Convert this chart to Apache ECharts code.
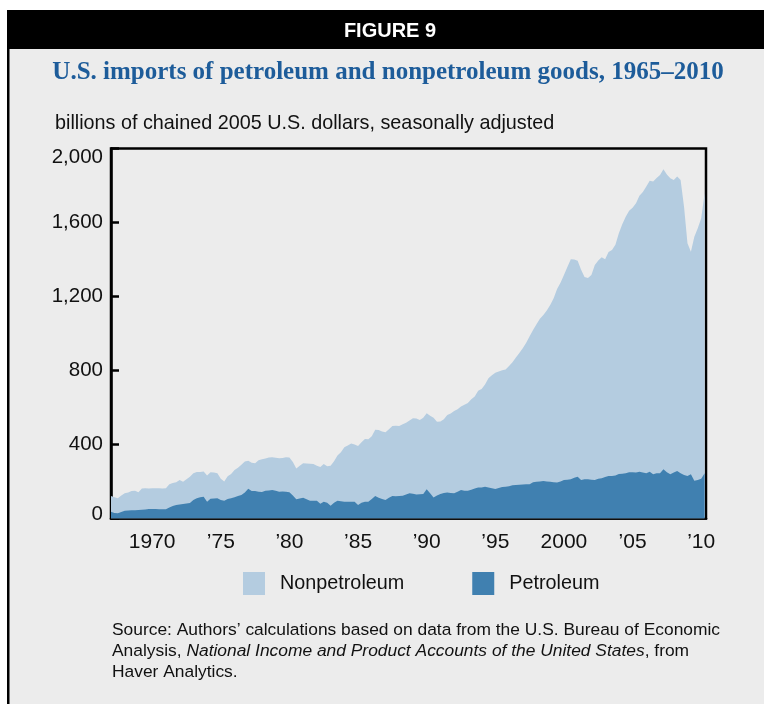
<!DOCTYPE html>
<html>
<head>
<meta charset="utf-8">
<script src="https://cdn.jsdelivr.net/npm/echarts@6/dist/echarts.min.js"></script>
<style>
  html, body { margin: 0; padding: 0; background: #ffffff; }
  #chart { width: 764px; height: 704px; }
</style>
</head>
<body>
<div id="chart"></div>
<script>
// Quarterly data, first point = 1967 Q1
const firstYear = 1967;
const nonpetroleum = [
  122, 115, 110, 125,
  136, 140, 148, 150,
  142, 162, 163, 162,
  163, 164, 163, 162,
  163, 185, 192, 196,
  208, 198, 212, 226,
  245, 252, 252, 254,
  232, 250, 248, 245,
  215, 200, 228, 240,
  262, 275, 290, 308,
  312, 302, 298, 315,
  320, 325, 330, 331,
  328, 326, 327, 331,
  330, 305, 270, 285,
  298, 297, 296, 295,
  285, 278, 295, 282,
  285, 310, 340, 358,
  385, 395, 405, 400,
  392, 412, 430, 428,
  445, 480, 478, 470,
  466, 482, 500, 502,
  500, 510, 518, 530,
  542, 540, 532, 545,
  569, 556, 545, 523,
  525, 536, 560, 568,
  581, 590, 605, 615,
  625, 645, 660, 690,
  700, 725, 758, 775,
  788, 795, 802, 806,
  825, 845, 870, 895,
  920, 950, 985, 1019,
  1050, 1080, 1100, 1125,
  1154, 1190, 1240, 1275,
  1316, 1360, 1401, 1400,
  1393, 1345, 1305, 1300,
  1316, 1370, 1395, 1412,
  1401, 1440, 1451, 1480,
  1542, 1590, 1631, 1664,
  1680, 1704, 1745, 1765,
  1794, 1826, 1821, 1840,
  1857, 1888, 1860, 1839,
  1830, 1848, 1830, 1685,
  1488, 1442, 1523, 1569,
  1623, 1758
];
const petroleum = [
  37, 30, 28, 35,
  42, 43, 44, 45,
  46, 47, 49, 51,
  52, 51, 50, 50,
  50, 60, 68, 73,
  76, 79, 81, 84,
  100, 109, 115, 118,
  91, 107, 108, 109,
  100, 96, 105, 110,
  115, 121, 127, 140,
  161, 149, 148, 145,
  143, 150, 152, 154,
  150, 145, 146, 144,
  142, 125, 104, 108,
  112, 104, 96, 96,
  96, 80, 90, 85,
  69, 85, 96, 93,
  91, 91, 90, 91,
  73, 85, 90, 91,
  105, 122, 112, 105,
  100, 112, 122, 120,
  122, 123, 130, 136,
  134, 130, 131, 132,
  158, 136, 113, 125,
  132, 138, 140, 138,
  136, 145, 154, 150,
  150, 156, 162, 167,
  167, 172, 168, 163,
  159, 165, 170, 172,
  175, 180, 181, 183,
  184, 185, 185, 196,
  198, 200, 203, 200,
  198, 196, 194, 200,
  208, 210, 212, 220,
  226, 208, 212, 212,
  210, 208, 215, 217,
  225, 230, 230, 232,
  240, 242, 245, 250,
  250, 248, 253, 248,
  244, 253, 239, 244,
  244, 266, 250, 239,
  248, 257, 245, 235,
  230, 239, 204, 208,
  215, 244
];
const xTickYears = [1970, 1975, 1980, 1985, 1990, 1995, 2000, 2005, 2010];
const xTickLabels = ['1970', '\u201975', '\u201980', '\u201985', '\u201990', '\u201995', '2000', '\u201905', '\u201910'];
const yTicks = [0, 400, 800, 1200, 1600, 2000];

const seriesNames = ['Nonpetroleum', 'Petroleum'];

function toPairs(arr) {
  return arr.map((v, i) => [firstYear + i * 0.25, v]);
}

const chart = echarts.init(document.getElementById('chart'), null, { renderer: 'canvas' });
const font = 'Liberation Sans, Arial, Helvetica, sans-serif';

chart.setOption({
  backgroundColor: '#ffffff',
  animation: false,
  graphic: [
    { type: 'rect', left: 7, top: 10, shape: { width: 757, height: 694 }, style: { fill: '#ececec' }, z: -10 },
    { type: 'rect', left: 7, top: 10, shape: { width: 757, height: 39 }, style: { fill: '#000000' }, z: -5 },
    { type: 'rect', left: 7, top: 10, shape: { width: 2.5, height: 694 }, style: { fill: '#000000' }, z: -5 },
    { type: 'text', x: 390, y: 31, style: { text: 'FIGURE 9', fill: '#ffffff', font: 'bold 20px "Liberation Sans Narrow", "Liberation Sans", Arial', textAlign: 'center', textVerticalAlign: 'middle' } },
    { type: 'text', x: 388, y: 73, style: { text: 'U.S. imports of petroleum and nonpetroleum goods, 1965\u20132010', fill: '#1d5c9a', font: 'bold 25px "Liberation Serif", "Times New Roman", serif', textAlign: 'center', textVerticalAlign: 'middle' } },
    { type: 'text', x: 55, y: 124, style: { text: 'billions of chained 2005 U.S. dollars, seasonally adjusted', fill: '#111111', font: '19.8px ' + font, textAlign: 'left', textVerticalAlign: 'middle' } },
    { type: 'text', x: 112, y: 620, style: {
        text: '{n|Source: Authors\u2019 calculations based on data from the U.S. Bureau of Economic}\n{n|Analysis, }{i|National Income and Product Accounts of the United States}{n|, from}\n{n|Haver Analytics.}',
        fill: '#111111', textAlign: 'left', textVerticalAlign: 'top',
        rich: {
          n: { fontFamily: font, fontSize: 17.4, lineHeight: 21, fill: '#111111' },
          i: { fontFamily: font, fontSize: 17.4, lineHeight: 21, fontStyle: 'italic', fill: '#111111' }
        }
    } }
  ],
  legend: {
    data: seriesNames,
    left: 243, top: 572,
    padding: 0,
    icon: 'rect',
    itemWidth: 22, itemHeight: 23,
    itemGap: 68,
    textStyle: { fontFamily: font, fontSize: 19.8, color: '#111111', padding: [5, 0, 0, 10] }
  },
  grid: {
    left: 111, right: 58, top: 148.5, bottom: 185.5,
    show: true, borderColor: '#000000', borderWidth: 2.5, backgroundColor: 'transparent'
  },
  xAxis: {
    type: 'value', min: 1967, max: 2010.35,
    splitLine: { show: false },
    axisLine: { show: true, onZero: false, lineStyle: { color: '#000', width: 2.5 } },
    axisTick: { show: true, inside: true, length: 7, lineStyle: { color: '#000', width: 2.5 }, customValues: xTickYears },
    axisLabel: {
      customValues: xTickYears,
      formatter: v => xTickLabels[xTickYears.indexOf(Math.round(v))] || '',
      fontFamily: font, fontSize: 21, color: '#111', margin: 13
    }
  },
  yAxis: {
    type: 'value', min: 0, max: 2000, interval: 400,
    splitLine: { show: false },
    axisLine: { show: true, lineStyle: { color: '#000', width: 2.5 } },
    axisTick: { show: true, inside: true, length: 8, lineStyle: { color: '#000', width: 2.5 } },
    axisLabel: {
      formatter: v => {
        if (!yTicks.includes(v)) return '';
        const s = v.toLocaleString('en-US');
        if (v === 2000) return '{top|' + s + '}';
        if (v === 0) return '{bot|' + s + '}';
        return s;
      },
      rich: {
        top: { fontFamily: font, fontSize: 20.5, color: '#111', padding: [18, 0, 0, 0] },
        bot: { fontFamily: font, fontSize: 20.5, color: '#111', padding: [0, 0, 8, 0] }
      },
      fontFamily: font, fontSize: 20.5, color: '#111', margin: 8
    }
  },
  series: [
    {
      name: seriesNames[0], type: 'line', data: toPairs(nonpetroleum),
      showSymbol: false, symbol: 'none',
      itemStyle: { color: '#b4cce0' },
      lineStyle: { width: 0, color: '#b4cce0' },
      areaStyle: { color: '#b4cce0', opacity: 1 },
      z: 1
    },
    {
      name: seriesNames[1], type: 'line', data: toPairs(petroleum),
      showSymbol: false, symbol: 'none',
      itemStyle: { color: '#4080b0' },
      lineStyle: { width: 0, color: '#4080b0' },
      areaStyle: { color: '#4080b0', opacity: 1 },
      z: 2
    }
  ]
});
</script>
</body>
</html>
